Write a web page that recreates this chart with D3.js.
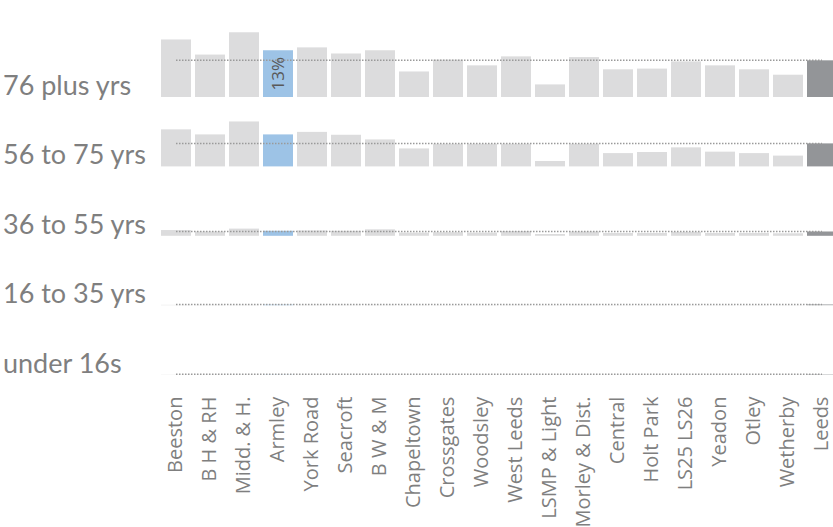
<!DOCTYPE html>
<html>
<head>
<meta charset="utf-8">
<script src="https://cdn.jsdelivr.net/npm/d3@7"></script>
<style>
  html, body { margin: 0; padding: 0; background: #fff; }
  svg { display: block; }
</style>
</head>
<body>
<svg id="chart" width="833" height="527"></svg>
<script>
const areas = ["Beeston","B H & RH","Midd. & H.","Armley","York Road","Seacroft","B W & M","Chapeltown","Crossgates","Woodsley","West Leeds","LSMP & Light","Morley & Dist.","Central","Holt Park","LS25 LS26","Yeadon","Otley","Wetherby","Leeds"];
const ageGroups = ["76 plus yrs","56 to 75 yrs","36 to 55 yrs","16 to 35 yrs","under 16s"];
const vals76plus = [16.0,11.8,18.0,13.0,13.8,12.1,13.0,7.1,10.4,8.8,11.3,3.5,11.1,7.7,7.9,9.9,8.8,7.7,6.2,10.2];
const vals56to75 = [10.3,8.9,12.5,8.9,9.6,8.8,7.5,5.0,6.3,6.3,6.3,1.5,6.3,3.7,4.0,5.3,4.1,3.7,3.0,6.4];
const vals36to55 = [1.6,1.2,2.0,1.4,1.5,1.4,1.8,0.9,1.0,0.9,1.3,0.5,1.2,0.8,0.8,1.1,0.8,0.8,0.7,1.2];
const vals16to35 = [0.1,0.1,0.1,0.15,0.1,0.1,0.1,0.05,0.05,0.05,0.1,0.05,0.1,0.05,0.05,0.05,0.05,0.05,0.05,0.2];
const valsUnder16 = [0.05,0.05,0.05,0.05,0.05,0.05,0.05,0.05,0.05,0.05,0.05,0.05,0.05,0.05,0.05,0.05,0.05,0.05,0.05,0.1];
const seriesValues = [vals76plus, vals56to75, vals36to55, vals16to35, valsUnder16];
const highlightArea = "Armley";
const highlightLabel = "13%";
const totalArea = "Leeds";

const svg = d3.select("#chart");
const rowTop0 = 27.6, rowStep = 69.4, rowH = 69.4;

const x = d3.scaleBand().domain(areas).range([157, 841]).padding(0.1176);
const y = d3.scaleLinear().domain([0, 19.3]).range([rowH, 0]);
const row = d3.scaleBand().domain(ageGroups).range([rowTop0, rowTop0 + rowStep * ageGroups.length]).padding(0);

const fillFor = a => a === highlightArea ? "#9dc3e6" : (a === totalArea ? "#939598" : "#dcdcdd");

ageGroups.forEach((g, gi) => {
  const vals = seriesValues[gi];
  const gRow = svg.append("g").attr("transform", `translate(0,${row(g)})`);
  gRow.selectAll("rect.bar").data(areas.map((a, i) => ({a, v: vals[i]})))
    .join("rect").attr("class", "bar")
    .attr("x", d => x(d.a)).attr("width", x.bandwidth())
    .attr("y", d => y(d.v)).attr("height", d => y(0) - y(d.v))
    .attr("fill", d => fillFor(d.a));
  const ref = vals[areas.indexOf(totalArea)];
  gRow.append("line")
    .attr("x1", x(areas[0]) + x.bandwidth() / 2)
    .attr("x2", x(areas[areas.length - 1]) + x.bandwidth() / 2)
    .attr("y1", y(ref)).attr("y2", y(ref))
    .attr("stroke", "#9a9a9a").attr("stroke-width", 1.5)
    .attr("stroke-dasharray", "1.5,1.5");
  gRow.append("text")
    .attr("x", 3).attr("y", y(0) - 2)
    .attr("font-family", "Lato, sans-serif").attr("font-size", 27)
    .attr("fill", "#7f7f7f").text(g);
  if (gi === 0) {
    const hv = vals[areas.indexOf(highlightArea)];
    const cx = x(highlightArea) + x.bandwidth() / 2;
    const cy = (y(hv) + y(0)) / 2;
    gRow.append("text")
      .attr("transform", `translate(${cx},${cy}) rotate(-90)`)
      .attr("text-anchor", "middle").attr("dy", "0.35em")
      .attr("font-family", "'Open Sans', sans-serif").attr("font-size", 17)
      .attr("fill", "#595959").text(highlightLabel);
  }
});

const xAxisTop = rowTop0 + rowStep * ageGroups.length + 22;
svg.append("g").selectAll("text").data(areas).join("text")
  .attr("transform", d => `translate(${x(d) + x.bandwidth() / 2 - 1},${xAxisTop}) rotate(-90)`)
  .attr("text-anchor", "end").attr("dy", "0.35em")
  .attr("font-family", "'Open Sans', sans-serif").attr("font-size", 20)
  .attr("fill", "#7f7f7f").text(d => d);
</script>
</body>
</html>
